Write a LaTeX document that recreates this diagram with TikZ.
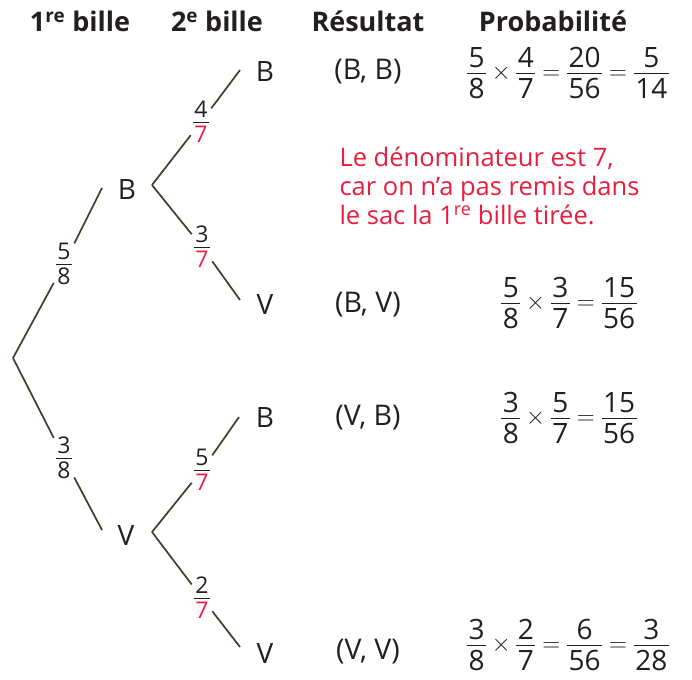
\documentclass[tikz,border=0pt]{standalone}
\usepackage{amsmath}
\usepackage{fontspec}
\setmainfont{Open Sans}
\usepackage{tikz}
\usetikzlibrary{positioning}
\definecolor{noteRed}{RGB}{232,30,62}
\definecolor{inkLine}{RGB}{66,60,48}
\definecolor{inkText}{RGB}{35,31,32}
% fraction with tight gaps around the bar
\newcommand{\fr}[2]{\begingroup\renewcommand{\arraystretch}{0}\setlength{\arrayrulewidth}{0.9pt}%
  \begin{tabular}{@{\hspace{1.5pt}}c@{\hspace{1.5pt}}}\rule[-0.18em]{0pt}{0.9em}#1\\\hline
  \rule[-0.02em]{0pt}{0.9em}#2\end{tabular}\endgroup}
\newcommand{\frr}[2]{\fr{#1}{\color{noteRed}#2}}
\tikzstyle{head}   = [font=\fontsize{27}{30}\selectfont\bfseries, text=inkText, anchor=base]
\tikzstyle{ball}   = [font=\fontsize{28}{32}\selectfont, text=inkText, inner sep=1pt]
\tikzstyle{res}    = [font=\fontsize{28.5}{32}\selectfont, text=inkText]
\tikzstyle{frac}   = [font=\fontsize{23}{26}\selectfont, text=inkText, inner sep=2pt]
\tikzstyle{prob}   = [font=\fontsize{28}{30}\selectfont, text=inkText, inner sep=0.5pt]
\tikzstyle{note}   = [font=\fontsize{25.5}{29}\selectfont, text=noteRed, align=left]
\tikzstyle{branch} = [draw=inkLine, line width=1.7pt]

\begin{document}
\begin{tikzpicture}[x=1pt, y=-1pt]
  \useasboundingbox (0,0) rectangle (692,679);

  % column titles
  \node[head] (h1) at (80,32)  {1\textsuperscript{re} bille};
  \node[head] (h2) at (217,32) {2\textsuperscript{e} bille};
  \node[head] (h3) at (368,32) {Résultat};
  \node[head] (h4) at (553,32) {Probabilité};

  % first draw
  \coordinate (root) at (13,358);
  \node[frac] (p58) at (64,264) {\fr{5}{8}};
  \node[frac] (p38) at (64,458) {\fr{3}{8}};
  \coordinate (tipB) at (102,188);
  \coordinate (tipV) at (102,530);
  \node[ball] (B) at (127,190) {B};
  \node[ball] (V) at (126,535) {V};
  \draw[branch] (root) -- (p58) -- (tipB);
  \draw[branch] (root) -- (p38) -- (tipV);

  % second draw after B
  \coordinate (forkB) at (152,185);
  \node[frac] (p47) at (201,122) {\frr{4}{7}};
  \node[frac] (p37) at (202,247) {\frr{3}{7}};
  \coordinate (tipBB) at (240,70);
  \coordinate (tipBV) at (240,300);
  \node[ball] (BB) at (265,72) {B};
  \node[ball] (BV) at (265,305) {V};
  \draw[branch] (forkB) -- (p47) -- (tipBB);
  \draw[branch] (forkB) -- (p37) -- (tipBV);

  % second draw after V
  \coordinate (forkV) at (152,532);
  \node[frac] (p57) at (202,470) {\frr{5}{7}};
  \node[frac] (p27) at (202,598) {\frr{2}{7}};
  \coordinate (tipVB) at (239,417);
  \coordinate (tipVV) at (240,647);
  \node[ball] (VB) at (265,418) {B};
  \node[ball] (VV) at (265,653) {V};
  \draw[branch] (forkV) -- (p57) -- (tipVB);
  \draw[branch] (forkV) -- (p27) -- (tipVV);

  % outcomes
  \node[res] (rBB) at (368,72)  {(B, B)};
  \node[res] (rBV) at (368,305) {(B, V)};
  \node[res] (rVB) at (368,418) {(V, B)};
  \node[res] (rVV) at (368,652) {(V, V)};

  % probabilities
  \node[prob] (qBB) at (568,73)  {$\fr{5}{8}\times\fr{4}{7}=\fr{20}{56}=\fr{5}{14}$};
  \node[prob] (qBV) at (569,303) {$\fr{5}{8}\times\fr{3}{7}=\fr{15}{56}$};
  \node[prob] (qVB) at (569,418) {$\fr{3}{8}\times\fr{5}{7}=\fr{15}{56}$};
  \node[prob] (qVV) at (568,645) {$\fr{3}{8}\times\fr{2}{7}=\fr{6}{56}=\fr{3}{28}$};

  \node[note, anchor=west] (remark) at (336,186)
    {Le dénominateur est 7,\\car on n’a pas remis dans\\le sac la 1\textsuperscript{re} bille tirée.};
\end{tikzpicture}
\end{document}
